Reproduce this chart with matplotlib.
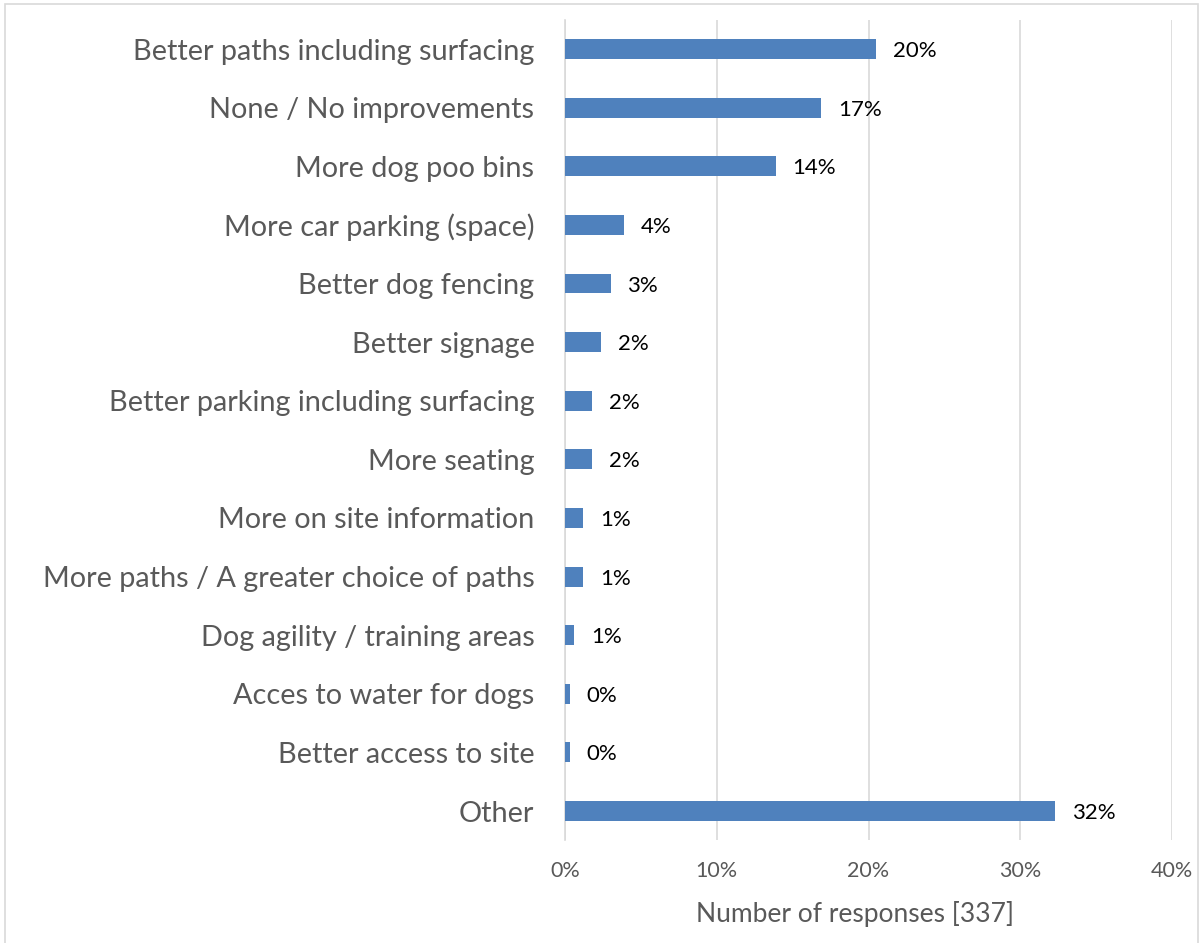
import matplotlib
matplotlib.use("Agg")
import matplotlib.pyplot as plt
from matplotlib.ticker import FuncFormatter
from matplotlib.patches import Rectangle

categories = [
    "Better paths including surfacing",
    "None / No improvements",
    "More dog poo bins",
    "More car parking (space)",
    "Better dog fencing",
    "Better signage",
    "Better parking including surfacing",
    "More seating",
    "More on site information",
    "More paths / A greater choice of paths",
    "Dog agility / training areas",
    "Acces to water for dogs",
    "Better access to site",
    "Other",
]
percent = [20.5, 16.9, 13.9, 3.9, 3.0, 2.4, 1.8, 1.8, 1.2, 1.2, 0.6, 0.3, 0.3, 32.3]
xticks = [0, 10, 20, 30, 40]
xlabel = "Number of responses [337]"

plt.rcParams['font.family'] = ['Lato', 'DejaVu Sans']

fig = plt.figure(figsize=(12.03, 9.43), dpi=100)
ax = fig.add_axes([0.4697, 0.1089, 0.9742 - 0.4697, 0.9791 - 0.1089])

y = list(range(len(categories)))
bars = ax.barh(y, percent, height=0.34, color="#4F81BD", zorder=3)
ax.set_ylim(len(categories) - 0.5, -0.5)
ax.set_xlim(0, 40)
ax.set_xticks(xticks)
ax.xaxis.set_major_formatter(FuncFormatter(lambda v, p: f"{v:.0f}%"))
ax.set_yticks(y)
ax.set_yticklabels(categories, fontsize=20.8, color="#595959")
ax.tick_params(axis='y', length=0, pad=22)
ax.tick_params(axis='x', length=0, pad=15, labelsize=15.5, labelcolor="#595959")
ax.grid(axis='x', color="#D9D9D9", linewidth=1.2, zorder=0)
for s in ["top", "right", "bottom"]:
    ax.spines[s].set_visible(False)
ax.spines["left"].set_color("#D9D9D9")
ax.spines["left"].set_linewidth(1.2)

for b, v in zip(bars, percent):
    ax.annotate(f"{v:.0f}%", (b.get_width(), b.get_y() + b.get_height() / 2),
                xytext=(12, -1.5), textcoords="offset points",
                va="center", ha="left", fontsize=16, color="black")

ax.set_xlabel(xlabel, fontsize=19, color="#595959", labelpad=14, x=0.478)

fig.patches.append(Rectangle((5 / 1203, -0.01), (1198 - 5) / 1203, 1 - 4 / 943 + 0.01,
                             transform=fig.transFigure, fill=False,
                             edgecolor="#D9D9D9", linewidth=1.2))

fig.savefig("out.png", dpi=100)
